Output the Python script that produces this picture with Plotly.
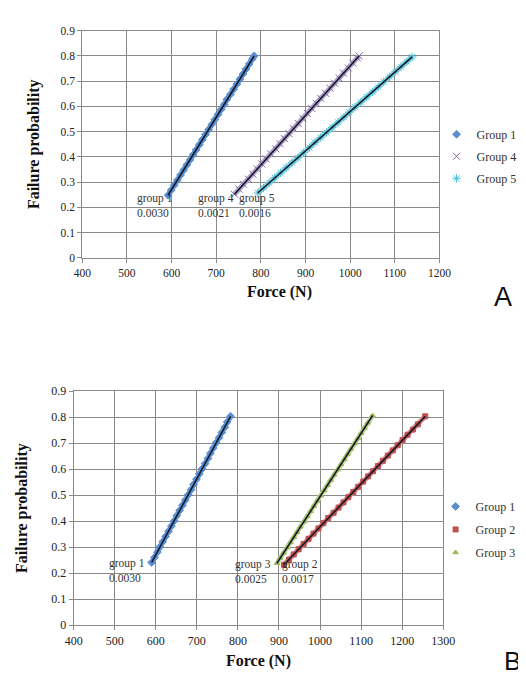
import numpy as np
import plotly.graph_objects as go

# ---------------- data ----------------
# Panel A
a_g1_force = [592, 599, 606, 613, 620, 627, 634, 641, 648, 655, 662, 669, 676, 683, 690,
              697, 704, 711, 718, 724, 732, 739, 746, 753, 760, 767, 774, 781, 785]
a_g1_prob = [0.248, 0.268, 0.288, 0.308, 0.328, 0.348, 0.368, 0.388, 0.408, 0.428, 0.448,
             0.468, 0.488, 0.508, 0.528, 0.548, 0.568, 0.588, 0.608, 0.628, 0.648, 0.668,
             0.688, 0.708, 0.728, 0.748, 0.768, 0.788, 0.800]
a_g4_force = [741, 751, 761, 772, 782, 792, 802, 812, 822, 833, 843, 853, 863, 873, 884,
              894, 904, 914, 924, 934, 945, 955, 965, 975, 985, 996, 1006, 1016, 1020]
a_g4_prob = [0.252, 0.272, 0.292, 0.312, 0.332, 0.352, 0.372, 0.392, 0.412, 0.432, 0.452,
             0.472, 0.492, 0.512, 0.532, 0.552, 0.572, 0.592, 0.612, 0.632, 0.652, 0.672,
             0.692, 0.712, 0.732, 0.752, 0.772, 0.792, 0.800]
a_g5_force = [793, 806, 819, 831, 844, 857, 870, 883, 896, 909, 921, 934, 947, 960, 973,
              986, 998, 1011, 1024, 1037, 1050, 1063, 1075, 1088, 1101, 1114, 1127, 1139]
a_g5_prob = [0.257, 0.277, 0.297, 0.317, 0.337, 0.357, 0.377, 0.397, 0.417, 0.437, 0.457,
             0.477, 0.497, 0.517, 0.537, 0.557, 0.577, 0.597, 0.617, 0.637, 0.657, 0.677,
             0.697, 0.717, 0.737, 0.757, 0.777, 0.796]

# Panel B
b_g1_force = [590, 597, 604, 610, 617, 624, 631, 638, 645, 651, 658, 665, 672, 679, 686,
              692, 699, 706, 713, 720, 727, 733, 740, 747, 754, 761, 768, 774, 782]
b_g1_prob = [0.241, 0.261, 0.281, 0.301, 0.321, 0.341, 0.361, 0.381, 0.401, 0.421, 0.441,
             0.461, 0.481, 0.501, 0.521, 0.541, 0.561, 0.581, 0.601, 0.621, 0.641, 0.661,
             0.681, 0.701, 0.721, 0.741, 0.761, 0.781, 0.803]
b_g2_force = [912, 924, 936, 948, 960, 972, 984, 996, 1008, 1020, 1033, 1045, 1057, 1069,
              1081, 1093, 1105, 1117, 1129, 1141, 1153, 1165, 1177, 1189, 1201, 1213, 1226,
              1238, 1256]
b_g2_prob = [0.232, 0.252, 0.272, 0.292, 0.312, 0.332, 0.352, 0.372, 0.392, 0.412, 0.432,
             0.452, 0.472, 0.492, 0.512, 0.532, 0.552, 0.572, 0.592, 0.612, 0.632, 0.652,
             0.672, 0.692, 0.712, 0.732, 0.752, 0.772, 0.803]
b_g3_force = [895, 903, 911, 920, 928, 936, 944, 952, 961, 969, 977, 985, 993, 1002, 1010,
              1018, 1026, 1034, 1043, 1051, 1059, 1067, 1075, 1084, 1092, 1100, 1108, 1116,
              1128]
b_g3_prob = [0.238, 0.258, 0.278, 0.298, 0.318, 0.338, 0.358, 0.378, 0.398, 0.418, 0.438,
             0.458, 0.478, 0.498, 0.518, 0.538, 0.558, 0.578, 0.598, 0.618, 0.638, 0.658,
             0.678, 0.698, 0.718, 0.738, 0.758, 0.778, 0.806]

# point labels: (text, x, y)
a_labels = [("group 1<br>0.0030", 563, 0.209),
            ("group 4<br>0.0021", 700, 0.209),
            ("group 5<br>0.0016", 792, 0.209)]
b_labels = [("group 1<br>0.0030", 530, 0.212),
            ("group 3<br>0.0025", 837, 0.208),
            ("group 2<br>0.0017", 951, 0.208)]

a_x_ticks = [400, 500, 600, 700, 800, 900, 1000, 1100, 1200]
b_x_ticks = [400, 500, 600, 700, 800, 900, 1000, 1100, 1200, 1300]
y_ticks = [0, 0.1, 0.2, 0.3, 0.4, 0.5, 0.6, 0.7, 0.8, 0.9]

# ---------------- figure ----------------
W, H = 526, 679
SERIF = "Liberation Serif, Times New Roman, serif"
GRID = "#8a8a8a"

fig = go.Figure()


def add_group(name, fx, py, color, band, symbol, size, xa, ya, legend):
    # the dense cloud of points forms a band along the data
    fig.add_trace(go.Scatter(
        x=fx, y=py, mode="lines", showlegend=False, hoverinfo="skip",
        line=dict(color=band, width=5), xaxis=xa, yaxis=ya))
    fig.add_trace(go.Scatter(
        x=fx, y=py, mode="markers", name=name,
        marker=dict(color=color, symbol=symbol, size=size,
                    line=dict(color=color, width=1)),
        xaxis=xa, yaxis=ya, legend=legend, legendgroup=legend + name))
    # linear fit line through the data
    k, b = np.polyfit(fx, py, 1)
    xs = np.array([min(fx), max(fx)])
    fig.add_trace(go.Scatter(
        x=xs, y=k * xs + b, mode="lines", showlegend=False, hoverinfo="skip",
        line=dict(color="#141a2a", width=1.6), xaxis=xa, yaxis=ya))


add_group("Group 1", a_g1_force, a_g1_prob, "#5b8fcf", "#8db4e0", "diamond", 6, "x", "y", "legend")
add_group("Group 4", a_g4_force, a_g4_prob, "#8064a2", "#b3a2cc", "x-thin", 7, "x", "y", "legend")
add_group("Group 5", a_g5_force, a_g5_prob, "#4bc0d6", "#8fd8e6", "asterisk", 7, "x", "y", "legend")

add_group("Group 1", b_g1_force, b_g1_prob, "#5b8fcf", "#8db4e0", "diamond", 6, "x2", "y2", "legend2")
add_group("Group 2", b_g2_force, b_g2_prob, "#c0504d", "#d98a88", "square", 5, "x2", "y2", "legend2")
add_group("Group 3", b_g3_force, b_g3_prob, "#9bbb59", "#c3d89a", "triangle-up", 5, "x2", "y2", "legend2")


def px_x(p):
    return p / W


def px_y(p):
    return 1 - p / H


axis_common = dict(showgrid=True, gridcolor=GRID, gridwidth=1, zeroline=False,
                   showline=True, linecolor=GRID, linewidth=1, mirror=True,
                   ticks="outside", ticklen=4, tickcolor=GRID,
                   tickfont=dict(family=SERIF, size=11.5, color="#222"))

fig.update_layout(
    width=W, height=H, autosize=False,
    margin=dict(l=0, r=0, t=0, b=0),
    paper_bgcolor="white", plot_bgcolor="white",
    font=dict(family=SERIF, color="#111"),
    xaxis=dict(axis_common, domain=[px_x(68), px_x(440)], range=[400, 1200],
               tickvals=a_x_ticks, anchor="y"),
    yaxis=dict(axis_common, domain=[px_y(248), px_y(16)], range=[0, 0.9],
               tickvals=y_ticks, anchor="x",
               title=dict(text="<b>Failure probability</b>", standoff=16,
                          font=dict(family=SERIF, size=16, color="#111"))),
    xaxis2=dict(axis_common, domain=[px_x(59), px_x(444)], range=[400, 1300],
                tickvals=b_x_ticks, anchor="y2",
                tickfont=dict(family=SERIF, size=12, color="#222"),
                title=dict(text="<b>Force (N)</b>", standoff=8,
                           font=dict(family=SERIF, size=16, color="#111"))),
    yaxis2=dict(axis_common, domain=[px_y(623), px_y(384)], range=[0, 0.9],
                tickvals=y_ticks, anchor="x2",
                tickfont=dict(family=SERIF, size=12, color="#222"),
                title=dict(text="<b>Failure probability</b>", standoff=19,
                           font=dict(family=SERIF, size=16, color="#111"))),
    legend=dict(x=px_x(437), y=px_y(107), xanchor="left", yanchor="top",
                bgcolor="rgba(0,0,0,0)", borderwidth=0, tracegroupgap=3,
                font=dict(family=SERIF, size=12, color="#333"), itemwidth=30),
    legend2=dict(x=px_x(436), y=px_y(487), xanchor="left", yanchor="top",
                 bgcolor="rgba(0,0,0,0)", borderwidth=0, tracegroupgap=4,
                 font=dict(family=SERIF, size=12, color="#333"), itemwidth=30),
    showlegend=True,
)

annotations = []
for text, x, y in a_labels:
    annotations.append(dict(text=text, x=x, y=y, xref="x", yref="y", showarrow=False,
                            font=dict(family=SERIF, size=11.5, color="#333"),
                            xanchor="center", yanchor="middle", align="left"))
for text, x, y in b_labels:
    annotations.append(dict(text=text, x=x, y=y, xref="x2", yref="y2", showarrow=False,
                            font=dict(family=SERIF, size=11.5, color="#333"),
                            xanchor="center", yanchor="middle", align="left"))
# top x-axis title (offset to the right in the original)
annotations.append(dict(text="<b>Force (N)</b>", x=px_x(273), y=px_y(283), xref="paper",
                        yref="paper", showarrow=False, xanchor="center", yanchor="middle",
                        font=dict(family=SERIF, size=16, color="#111")))
# panel letters
annotations.append(dict(text="A", x=px_x(506), y=px_y(288), xref="paper", yref="paper",
                        showarrow=False, xanchor="center", yanchor="middle",
                        font=dict(family="Liberation Sans, Arial, sans-serif", size=27,
                                  color="#111")))
annotations.append(dict(text="B", x=px_x(505), y=px_y(660), xref="paper", yref="paper",
                        showarrow=False, xanchor="left", yanchor="middle",
                        font=dict(family="Liberation Sans, Arial, sans-serif", size=26,
                                  color="#111")))
fig.update_layout(annotations=annotations)

fig.write_html("out.html")
